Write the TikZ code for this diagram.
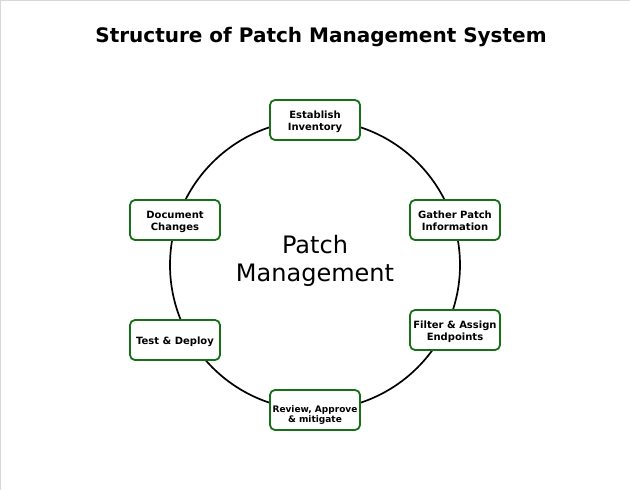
\documentclass[tikz,border=0pt]{standalone}
\usepackage{fontspec}
\setmainfont{DejaVu Sans}
\definecolor{boxgreen}{RGB}{22,112,22}
\definecolor{edgegray}{RGB}{215,215,215}
\newcommand{\twoline}[2]{\begin{tabular}{@{}c@{}}#1\\#2\end{tabular}}
\begin{document}
\begin{tikzpicture}[x=1pt,y=-1pt,
  stepbox/.style={draw=boxgreen, line width=1.8pt, fill=white, rounded corners=5pt,
    minimum width=90pt, minimum height=40pt, inner sep=0pt},
  steptext/.style={inner sep=0pt, yshift=-2.3pt, font=\bfseries\fontsize{10}{11.8}\selectfont},
  smalltext/.style={inner sep=0pt, yshift=-5.8pt, font=\bfseries\fontsize{9}{10.2}\selectfont},
  ring/.style={line width=1.7pt, black}]
\useasboundingbox (0,0) rectangle (630,490);
\draw[edgegray, line width=1pt] (0.5,490) -- (0.5,0.5) -- (630,0.5);
\node[font=\bfseries\fontsize{20}{24}\selectfont] (title) at (321,37) {Structure of Patch Management System};
\coordinate (ctr) at (315,265);
\draw[ring] (ctr) circle[radius=145];
\node[align=center, font=\fontsize{24}{28}\selectfont] (pm) at (315,260.5) {Patch\\Management};
\node[stepbox] (inv) at (315,120) {};
\node[stepbox] (gather) at (455,220) {};
\node[stepbox] (filter) at (455,330) {};
\node[stepbox] (review) at (315,410) {};
\node[stepbox] (test) at (175,340) {};
\node[stepbox] (doc) at (175,220) {};
\node[steptext] (invt) at (inv.center) {\twoline{Establish}{Inventory}};
\node[steptext] (gathert) at (gather.center) {\twoline{Gather Patch}{Information}};
\node[steptext] (filtert) at (filter.center) {\twoline{Filter \& Assign}{Endpoints}};
\node[smalltext] (reviewt) at (review.center) {\twoline{Review, Approve}{\& mitigate}};
\node[steptext] (testt) at (test.center) {\begin{tabular}{@{}c@{}}Test \& Deploy\end{tabular}};
\node[steptext] (doct) at (doc.center) {\twoline{Document}{Changes}};
\end{tikzpicture}
\end{document}
